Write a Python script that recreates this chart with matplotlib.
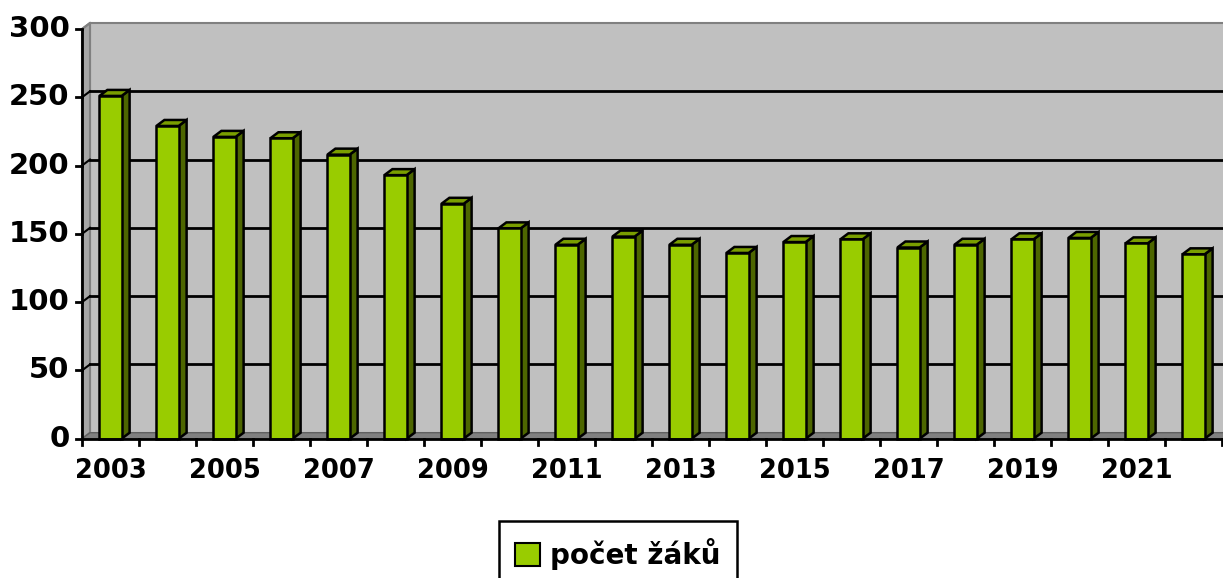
import numpy as np
import matplotlib.pyplot as plt
from matplotlib.patches import Polygon, Rectangle, Patch

# data
years = list(range(2003, 2023))
pocet_zaku = [251, 229, 221, 220, 208, 193, 172, 154, 142, 148,
              142, 136, 144, 146, 140, 142, 146, 147, 143, 135]
y_ticks = [0, 50, 100, 150, 200, 250, 300]
x_labels = [str(y) if (y - 2003) % 2 == 0 else "" for y in years]

W, H = 1223, 578
fig = plt.figure(figsize=(W / 100, H / 100), dpi=100)
fig.patch.set_facecolor("white")

# front plane of the pseudo-3d chart, in pixels
x0, x1 = 82, 1222
y_bot, y_top = 438.7, 29
ax = fig.add_axes([x0 / W, 1 - y_bot / H, (x1 - x0) / W, (y_bot - y_top) / H])
n = len(years)
ax.set_xlim(-0.5, n - 0.5)
ax.set_ylim(0, 300)
ax.axis("off")

# depth offset (8 px right, 6 px up) in data units
dx = 8 / ((x1 - x0) / n)
dy = 6 / ((y_bot - y_top) / 300)

green = "#99cc00"
green_side = "#4d6600"
green_top = "#7a9e00"
wall = "#c0c0c0"

# back wall, side wall, floor
ax.add_patch(Rectangle((-0.5 + dx, dy), n + 1, 300, facecolor=wall,
                       edgecolor="#808080", lw=1.5, zorder=0, clip_on=False))
ax.add_patch(Polygon([(-0.5, 0), (-0.5 + dx, dy), (-0.5 + dx, 300 + dy), (-0.5, 300)],
                     closed=True, facecolor="#a6a6a6", edgecolor="#808080",
                     lw=1.5, zorder=0.5, clip_on=False))
ax.add_patch(Polygon([(-0.5, 0), (-0.5 + dx, dy), (n + 1, dy), (n + 1, 0)],
                     closed=True, facecolor="#808080", edgecolor="#606060",
                     lw=1, zorder=0.5, clip_on=False))

# gridlines on walls
for t in y_ticks[1:-1]:
    ax.plot([-0.5 + dx, n + 1], [t + dy, t + dy], color="black", lw=2, zorder=1, clip_on=False)
    ax.plot([-0.5, -0.5 + dx], [t, t + dy], color="black", lw=1.5, zorder=1, clip_on=False)

# bars
bw = 0.39
for i, v in enumerate(pocet_zaku):
    l, r = i - bw / 2, i + bw / 2
    ax.add_patch(Polygon([(r, 0), (r + dx, dy), (r + dx, v + dy), (r, v)], closed=True,
                         facecolor=green_side, edgecolor="black", lw=1.8, zorder=3, clip_on=False))
    ax.add_patch(Polygon([(l, v), (l + dx, v + dy), (r + dx, v + dy), (r, v)], closed=True,
                         facecolor=green_top, edgecolor="black", lw=1.8, zorder=3, clip_on=False))
    ax.add_patch(Rectangle((l, 0), bw, v, facecolor=green, edgecolor="black",
                           lw=1.8, zorder=4, clip_on=False))

# axes lines and ticks
ax.plot([-0.5, -0.5], [0, 300], color="black", lw=2, zorder=5, clip_on=False)
ax.plot([-0.5, -0.5 + dx], [300, 300 + dy], color="#808080", lw=1.5, zorder=5, clip_on=False)
ax.plot([-0.5, n + 1], [0, 0], color="black", lw=2, zorder=5, clip_on=False)

tick_dx = 6 / ((x1 - x0) / n)
tick_dy = 6 / ((y_bot - y_top) / 300)
for t in y_ticks:
    ax.plot([-0.5 - tick_dx, -0.5], [t, t], color="black", lw=2, zorder=5, clip_on=False)
    ax.text(-0.5 - 2.1 * tick_dx, t, str(t), ha="right", va="center",
            fontsize=21, fontweight="bold", family="DejaVu Sans")
for k in range(n + 1):
    ax.plot([k - 0.5, k - 0.5], [0, -tick_dy], color="black", lw=2, zorder=5, clip_on=False)
for i, lab in enumerate(x_labels):
    if lab:
        ax.text(i, -14, lab, ha="center", va="top", fontsize=18.5,
                fontweight="bold", family="DejaVu Sans")

# legend
handle = Patch(facecolor=green, edgecolor="black", lw=1.5)
leg = fig.legend([handle], ["počet žáků"], loc="upper center",
                 bbox_to_anchor=(618 / W, 1 - 521 / H), frameon=True, fancybox=False,
                 framealpha=1, prop={"size": 20, "weight": "bold"},
                 handlelength=0.9, handleheight=0.9,
                 handletextpad=0.35, borderpad=0.6, borderaxespad=0)
leg.get_frame().set_edgecolor("black")
leg.get_frame().set_linewidth(1.8)

fig.savefig("out.png", dpi=100)
